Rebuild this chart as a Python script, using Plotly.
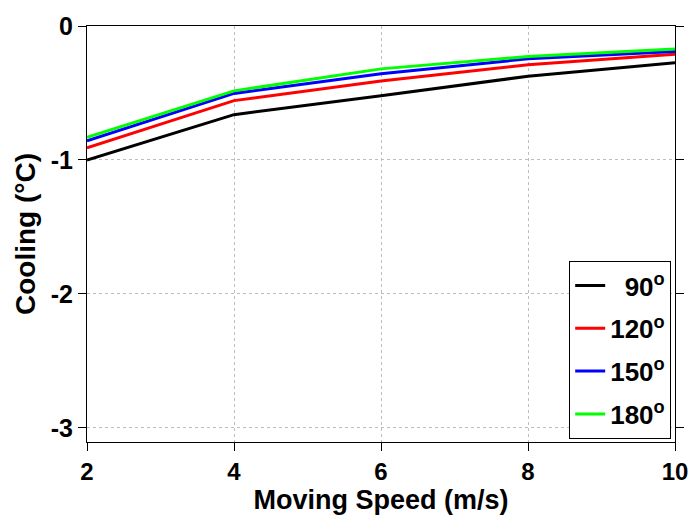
import plotly.graph_objects as go

speed = [2, 4, 6, 8, 10]
cool_90 = [-1.00, -0.662, -0.52, -0.375, -0.274]
cool_120 = [-0.91, -0.557, -0.41, -0.289, -0.21]
cool_150 = [-0.857, -0.503, -0.357, -0.245, -0.19]
cool_180 = [-0.83, -0.484, -0.32, -0.228, -0.172]

names = ["\u200790<sup>o</sup>", "120<sup>o</sup>", "150<sup>o</sup>", "180<sup>o</sup>"]
colors = ["#000000", "#ff0000", "#0000ff", "#00ff00"]
series = [cool_90, cool_120, cool_150, cool_180]

xticks = [2, 4, 6, 8, 10]
yticks = [0, -1, -2, -3]
yticktext = ["0", "-1", "-2", "-3"]

fig = go.Figure()
for i, (nm, c, s) in enumerate(zip(names, colors, series)):
    fig.add_trace(go.Scatter(x=speed, y=s, mode="lines", name=nm,
                             legendgroup=f"g{i}",
                             line=dict(color=c, width=3)))

font_family = "Liberation Sans, Arial, sans-serif"
fig.update_layout(
    width=700, height=518,
    margin=dict(l=87, r=17, t=20, b=73),
    paper_bgcolor="white", plot_bgcolor="white",
    font=dict(family=font_family, size=22, color="black", weight="bold"),
    showlegend=True,
    legend=dict(x=0.9935, y=0.007, xanchor="right", yanchor="bottom",
                bgcolor="white", bordercolor="black", borderwidth=1,
                font=dict(size=26, weight="bold"),
                itemwidth=30, tracegroupgap=6),
)
fig.update_xaxes(
    range=[2, 10], tickvals=xticks, ticktext=[str(v) for v in xticks],
    showline=True, linecolor="black", linewidth=1, mirror=True,
    ticks="outside", ticklen=8, tickcolor="black",
    showgrid=True, gridcolor="#bdbdbd", griddash="dot", gridwidth=1,
    zeroline=False,
    tickfont=dict(size=24, weight="bold"),
    title=dict(text="Moving Speed (m/s)", font=dict(size=27, weight="bold"), standoff=2),
)
fig.update_yaxes(
    range=[-3.105, 0.0], tickvals=yticks, ticktext=yticktext,
    showline=True, linecolor="black", linewidth=1, mirror="ticks",
    ticks="outside", ticklen=8, tickcolor="black",
    showgrid=True, gridcolor="#bdbdbd", griddash="dot", gridwidth=1,
    zeroline=False,
    tickfont=dict(size=25, weight="bold"),
    title=dict(text="Cooling (°C)", font=dict(size=28, weight="bold"), standoff=6),
)

fig.write_html("out.html")
